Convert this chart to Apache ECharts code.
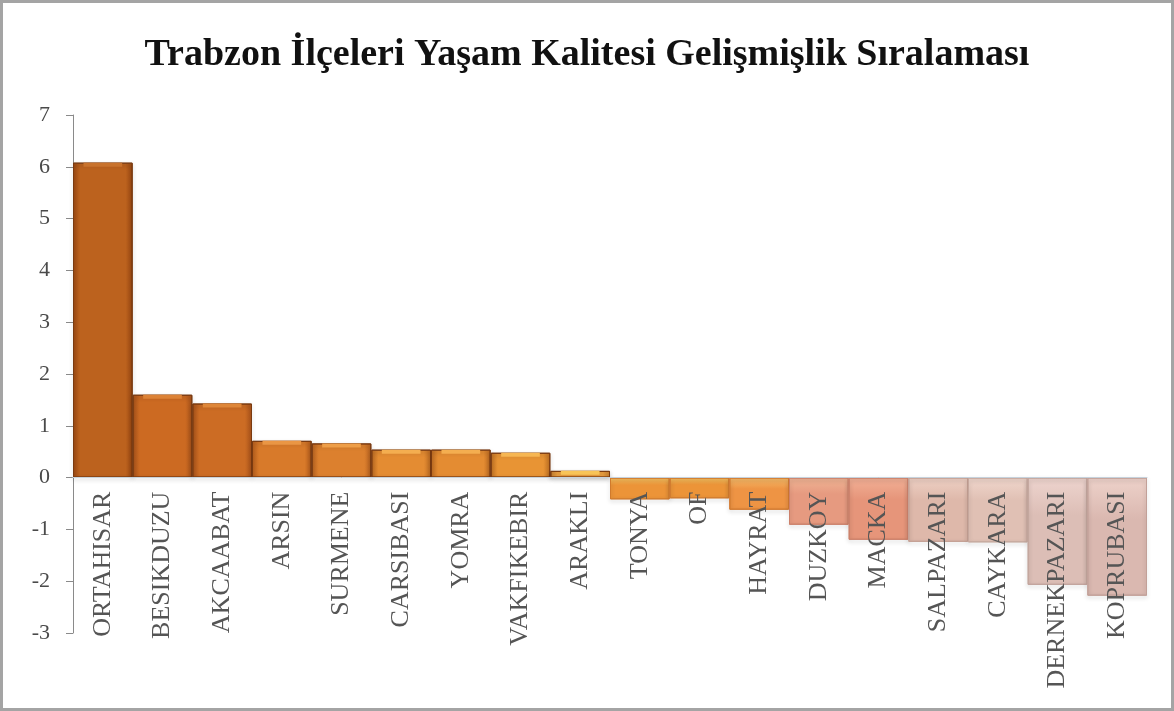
<!DOCTYPE html>
<html>
<head>
<meta charset="utf-8">
<script src="https://cdn.jsdelivr.net/npm/echarts@6/dist/echarts.min.js"></script>
<style>
  html, body { margin: 0; padding: 0; background: #fff; }
  #chart { width: 1174px; height: 711px; }
</style>
</head>
<body>
<div id="chart"></div>
<script>
// ilçeler ve değerler
var districts = ['ORTAHISAR', 'BESIKDUZU', 'AKCAABAT', 'ARSIN', 'SURMENE', 'CARSIBASI', 'YOMRA', 'VAKFIKEBIR', 'ARAKLI',
                 'TONYA', 'OF', 'HAYRAT', 'DUZKOY', 'MACKA', 'SALPAZARI', 'CAYKARA', 'DERNEKPAZARI', 'KOPRUBASI'];
var scores = [6.08, 1.60, 1.43, 0.71, 0.66, 0.54, 0.54, 0.48, 0.13,
              -0.42, -0.40, -0.62, -0.91, -1.20, -1.24, -1.25, -2.07, -2.28];
var yTicks = [-3, -2, -1, 0, 1, 2, 3, 4, 5, 6, 7];

// renkler: [kenar, orta, açık]
var barColors = [
  ['#9a4812', '#bc621e', '#c8722c'],
  ['#a8521a', '#cc6a22', '#dc8236'],
  ['#a8521a', '#cc6c24', '#de8638'],
  ['#b45c1c', '#d87a2a', '#ea9644'],
  ['#b86220', '#dc802e', '#ee9e48'],
  ['#bc6a22', '#e48c32', '#f4ae50'],
  ['#bc6a22', '#e48c32', '#f4ae50'],
  ['#c07022', '#e89434', '#f6b652'],
  ['#c88030', '#eca040', '#f8c458'],
  ['#d07a2c', '#ec9438', '#f8c462'],
  ['#d07a2c', '#ec9438', '#f8c462'],
  ['#d27a30', '#ee9444', '#f6bc6a'],
  ['#cc806a', '#e69a80', '#f0b494'],
  ['#cc806a', '#e6957a', '#f2b096'],
  ['#c4a094', '#deb8aa', '#eed0c4'],
  ['#c6a89e', '#e0c0b4', '#f0d6cc'],
  ['#c2a49c', '#dcbeb6', '#eed4ce'],
  ['#c2a098', '#dab8b0', '#eed2ca']
];

var barData = scores.map(function (v, i) {
  var c = barColors[i];
  var neg = v < 0;
  var fill = neg ? {
    type: 'linear', x: 0, y: 0, x2: 0, y2: 1,
    colorStops: [
      { offset: 0, color: c[2] },
      { offset: 0.35, color: c[1] },
      { offset: 1, color: c[1] }
    ]
  } : {
    type: 'linear', x: 0, y: 0, x2: 1, y2: 0,
    colorStops: [
      { offset: 0, color: c[0] },
      { offset: 0.12, color: c[1] },
      { offset: 0.88, color: c[1] },
      { offset: 1, color: c[0] }
    ]
  };
  return {
    value: v,
    itemStyle: {
      color: fill,
      borderColor: neg ? c[0] : '#7a3a10',
      borderWidth: 1,
      shadowColor: 'rgba(0,0,0,0.22)',
      shadowBlur: 4,
      shadowOffsetY: 2
    }
  };
});

// üst yüzdeki açık şerit (yalnız pozitif çubuklar)
var topData = scores.map(function (v, i) {
  return v > 0 ? { value: v, itemStyle: { color: barColors[i][2] } } : '-';
});

var chart = echarts.init(document.getElementById('chart'));
var gridTop = 115, gridBottom = 78;
var zeroOffset = -(711 - gridTop - gridBottom) * 0.3;

chart.setOption({
  backgroundColor: '#ffffff',
  title: {
    text: 'Trabzon İlçeleri Yaşam Kalitesi Gelişmişlik Sıralaması',
    left: 'center',
    top: 31,
    textStyle: { fontFamily: 'Liberation Serif', fontWeight: 'bold', fontSize: 38, color: '#111' }
  },
  graphic: [{
    type: 'rect',
    shape: { x: 1.5, y: 1.5, width: 1171, height: 708 },
    style: { fill: 'none', stroke: '#a4a4a4', lineWidth: 3 },
    silent: true
  }],
  grid: { left: 73, right: 27, top: gridTop, bottom: gridBottom, outerBoundsMode: 'none' },
  xAxis: {
    type: 'category',
    data: districts,
    position: 'bottom',
    offset: zeroOffset,
    z: 10,
    axisLine: { onZero: false, lineStyle: { color: '#c6d2dc', width: 1 } },
    axisTick: { show: false },
    axisLabel: {
      rotate: 90, interval: 0, margin: 14,
      fontFamily: 'Liberation Serif', fontSize: 26, color: '#555'
    }
  },
  yAxis: {
    type: 'value',
    min: -3, max: 7, interval: 1,
    axisLine: { show: true, lineStyle: { color: '#8a8a8a' } },
    axisTick: { show: true, length: 7, lineStyle: { color: '#8a8a8a' } },
    splitLine: { show: false },
    axisLabel: {
      margin: 23,
      fontFamily: 'Liberation Serif', fontSize: 22, color: '#4a4a4a',
      formatter: function (v) { return yTicks.indexOf(v) >= 0 ? String(v) : ''; }
    }
  },
  series: [{
    type: 'bar',
    data: barData,
    barCategoryGap: '0%',
    barWidth: '100%',
    z: 2
  }, {
    type: 'pictorialBar',
    data: topData,
    symbol: 'rect',
    symbolSize: ['94%', 4],
    symbolPosition: 'end',
    symbolOffset: [0, 0],
    z: 3,
    silent: true
  }]
});
</script>
</body>
</html>
